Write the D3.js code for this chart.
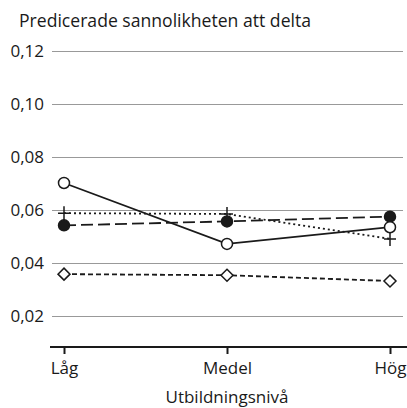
<!DOCTYPE html>
<html>
<head>
<meta charset="utf-8">
<script src="https://cdn.jsdelivr.net/npm/d3@7"></script>
<style>
  body { margin: 0; background: #fff; }
  svg text { font-family: "Open Sans", sans-serif; fill: #1a1a1a; }
</style>
</head>
<body>
<svg id="svg"></svg>
<script>
  const levels = ["Låg", "Medel", "Hög"];
  const yTicks = [0.02, 0.04, 0.06, 0.08, 0.10, 0.12];

  // one array per series
  const openCircle = [0.0702, 0.0472, 0.0535];
  const filledCircle = [0.0542, 0.0557, 0.0575];
  const plusSeries = [0.0588, 0.0585, 0.0491];
  const diamondSeries = [0.0358, 0.0354, 0.0332];

  const W = 407, H = 408;
  const fontSize = 17;
  const svg = d3.select("#svg")
      .attr("width", W)
      .attr("height", H);

  const yScale = d3.scaleLinear()
      .domain([0.02, 0.12])
      .range([316, 51]);

  const xScale = d3.scalePoint()
      .domain(levels)
      .range([64, 390]);

  // title
  svg.append("text")
      .attr("x", 19)
      .attr("y", 27)
      .attr("font-size", 17.6)
      .text("Predicerade sannolikheten att delta");

  // gridlines + y labels
  const grid = svg.append("g")
      .attr("transform", "translate(52,0)")
      .call(d3.axisLeft(yScale)
        .tickValues(yTicks)
        .tickSize(-351)
        .tickFormat(d => d3.format(".2f")(d).replace(".", ",")));
  grid.select(".domain").remove();
  grid.selectAll(".tick line").attr("stroke", "#999").attr("stroke-width", 1);
  grid.selectAll(".tick text")
      .attr("x", -8)
      .attr("font-size", fontSize)
      .attr("font-family", "Open Sans, sans-serif")
      .attr("fill", "#1a1a1a");

  // x axis
  const xAxis = svg.append("g")
      .attr("transform", "translate(0,347)")
      .call(d3.axisBottom(xScale).tickSize(7).tickPadding(8));
  xAxis.select(".domain").remove();
  xAxis.append("line")
      .attr("x1", 50).attr("x2", 407)
      .attr("stroke", "#1a1a1a").attr("stroke-width", 2);
  xAxis.selectAll(".tick line").attr("stroke", "#1a1a1a").attr("stroke-width", 2);
  xAxis.selectAll(".tick text")
      .attr("font-size", fontSize)
      .attr("font-family", "Open Sans, sans-serif")
      .attr("fill", "#1a1a1a");

  svg.append("text")
      .attr("x", xScale("Medel"))
      .attr("y", 403)
      .attr("text-anchor", "middle")
      .attr("font-size", fontSize)
      .text("Utbildningsnivå");

  const line = d3.line()
      .x((d, i) => xScale(levels[i]))
      .y(d => yScale(d));

  const series = [
    { values: diamondSeries, dash: "5,3", marker: "diamond" },
    { values: plusSeries, dash: "2,3", marker: "plus" },
    { values: filledCircle, dash: "12,5", marker: "filled" },
    { values: openCircle, dash: null, marker: "open" }
  ];

  series.forEach(function(s) {
    svg.append("path")
        .datum(s.values)
        .attr("fill", "none")
        .attr("stroke", "#1a1a1a")
        .attr("stroke-width", 1.8)
        .attr("stroke-dasharray", s.dash)
        .attr("d", line);

    const pts = svg.append("g").selectAll("g")
        .data(s.values)
        .enter().append("g")
        .attr("transform", (d, i) => `translate(${xScale(levels[i])},${yScale(d)})`);

    if (s.marker === "open" || s.marker === "filled") {
      pts.append("circle")
          .attr("r", 5.5)
          .attr("fill", s.marker === "open" ? "#fff" : "#1a1a1a")
          .attr("stroke", "#1a1a1a")
          .attr("stroke-width", 1.5);
    } else if (s.marker === "diamond") {
      pts.append("path")
          .attr("d", "M0,-6L6,0L0,6L-6,0Z")
          .attr("fill", "#fff")
          .attr("stroke", "#1a1a1a")
          .attr("stroke-width", 1.5);
    } else {
      pts.append("path")
          .attr("d", "M-6,0H6M0,-7V7")
          .attr("stroke", "#1a1a1a")
          .attr("stroke-width", 1.5);
    }
  });
</script>
</body>
</html>
